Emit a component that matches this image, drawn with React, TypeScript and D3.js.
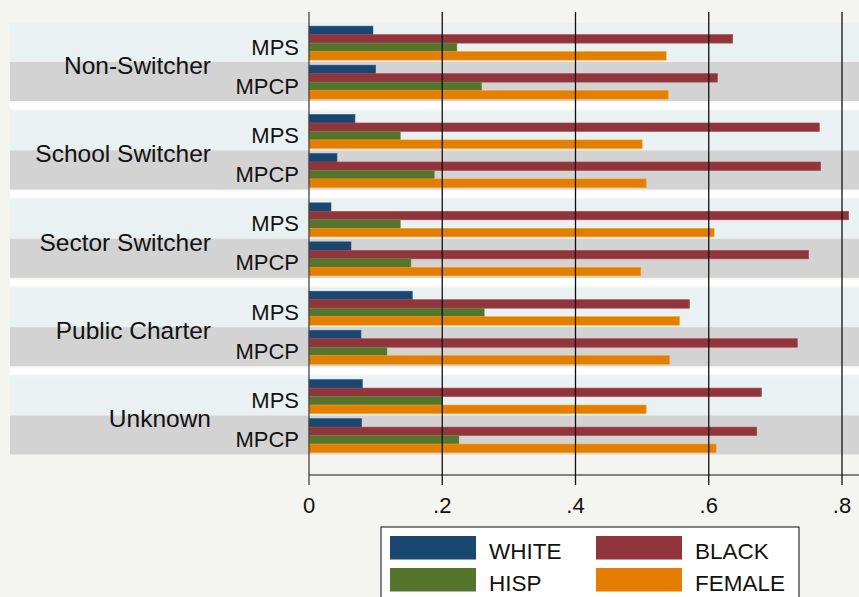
import React from "react";
import * as d3 from "d3";

const groups = ["Non-Switcher", "School Switcher", "Sector Switcher", "Public Charter", "Unknown"];
const subgroups = ["MPS", "MPCP"];
const seriesNames = ["WHITE", "BLACK", "HISP", "FEMALE"];
const seriesColors = ["#1a476f", "#90353b", "#55752f", "#e37e00"];

// values per group, [MPS, MPCP]
const whiteVals = [[0.096, 0.1], [0.069, 0.042], [0.033, 0.063], [0.155, 0.078], [0.08, 0.079]];
const blackVals = [[0.636, 0.613], [0.766, 0.768], [0.81, 0.75], [0.571, 0.733], [0.679, 0.672]];
const hispVals = [[0.222, 0.259], [0.137, 0.188], [0.137, 0.153], [0.263, 0.117], [0.2, 0.225]];
const femaleVals = [[0.536, 0.539], [0.5, 0.506], [0.608, 0.498], [0.556, 0.541], [0.506, 0.611]];
const xTicks = [0, 0.2, 0.4, 0.6, 0.8];
const xTickLabels = ["0", ".2", ".4", ".6", ".8"];

const W = 859;
const H = 597;
const FONT = "'Liberation Sans', Arial, sans-serif";

export default function App() {
  const seriesVals = [whiteVals, blackVals, hispVals, femaleVals];
  const x = d3.scaleLinear().domain([0, 0.8]).range([309, 842]);
  const yGroup = d3.scaleBand<string>().domain(groups).range([23, 454.5]).paddingInner(0.117).paddingOuter(0);
  const gb = yGroup.bandwidth();
  const ySub = d3.scaleBand<string>().domain(subgroups).range([0, gb]);
  const sb = ySub.bandwidth();
  const ySeries = d3.scaleBand<string>().domain(seriesNames).range([sb * 0.08, sb * 0.95]);
  const plotTop = 12;
  const axisY = 475;

  return (
    <svg width={W} height={H} style={{ position: "absolute", left: 0, top: 0, fontFamily: FONT }}>
      <rect x={0} y={0} width={W} height={H} fill="#f4f5f0" />
      {groups.map((g, gi) => {
        const y0 = yGroup(g)!;
        const next = gi < groups.length - 1 ? yGroup(groups[gi + 1])! : null;
        return (
          <g key={g}>
            <rect x={10} y={y0 + ySub("MPS")!} width={W - 10} height={sb} fill="#e9f1f3" />
            <rect x={10} y={y0 + ySub("MPCP")!} width={W - 10} height={sb} fill="#d3d3d3" />
            {next !== null && (
              <rect x={10} y={y0 + gb + 1.5} width={W - 10} height={next - (y0 + gb) - 3.5} fill="#ffffff" />
            )}
          </g>
        );
      })}
      {groups.map((g, gi) => {
        const y0 = yGroup(g)!;
        return (
          <g key={"bars" + g}>
            {subgroups.map((s, si) => {
              const ys = y0 + ySub(s)!;
              return (
                <g key={s}>
                  {seriesNames.map((n, ni) => (
                    <rect
                      key={n}
                      x={x(0)}
                      y={ys + ySeries(n)!}
                      width={x(seriesVals[ni][gi][si]) - x(0)}
                      height={ySeries.bandwidth()}
                      fill={seriesColors[ni]}
                      stroke={d3.color(seriesColors[ni])!.brighter(0.6).formatHex()}
                      strokeWidth={0.6}
                    />
                  ))}
                  <text x={299} y={ys + sb / 2 + 12} textAnchor="end" fontSize={22} fill="#111">
                    {s}
                  </text>
                </g>
              );
            })}
            <text x={211} y={y0 + gb / 2 + 12} textAnchor="end" fontSize={24.5} fill="#111">
              {g}
            </text>
          </g>
        );
      })}
      {xTicks.map((t, i) => (
        <g key={"t" + i}>
          <line
            x1={x(t)}
            x2={x(t)}
            y1={plotTop}
            y2={axisY + 10}
            stroke={i === 0 ? "#444" : "#111"}
            strokeWidth={1.3}
          />
          <text x={x(t)} y={513} textAnchor="middle" fontSize={22} fill="#111">
            {xTickLabels[i]}
          </text>
        </g>
      ))}
      <line x1={x(0)} x2={W} y1={axisY} y2={axisY} stroke="#111" strokeWidth={1.2} />
      <g>
        <rect x={381} y={527} width={418} height={80} fill="#ffffff" stroke="#333" strokeWidth={1.2} />
        {seriesNames.map((n, i) => {
          const col = i % 2;
          const row = Math.floor(i / 2);
          const sx = col === 0 ? 390 : 596;
          const sy = row === 0 ? 536 : 568;
          return (
            <g key={"leg" + n}>
              <rect x={sx} y={sy} width={86} height={23.5} fill={seriesColors[i]} />
              <text x={sx + 99} y={sy + 23} fontSize={22.5} fill="#111">
                {n}
              </text>
            </g>
          );
        })}
      </g>
    </svg>
  );
}
